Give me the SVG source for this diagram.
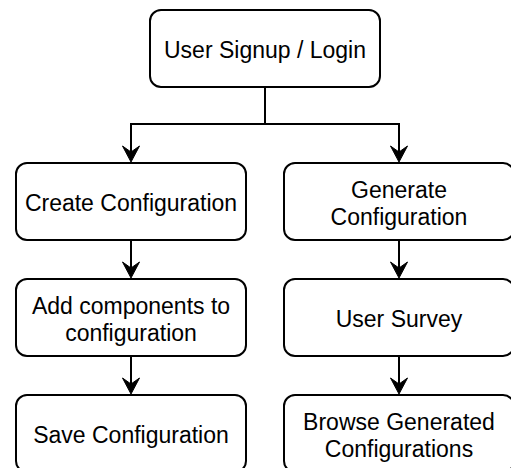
<svg xmlns="http://www.w3.org/2000/svg" width="511" height="468" viewBox="0 0 511 468">
  <defs>
    <style>
      .box { fill: #ffffff; stroke: #000000; stroke-width: 2; }
      .lbl { font-family: "Liberation Sans", Arial, sans-serif; font-size: 23px; fill: #000000; text-anchor: middle; }
      .edge { fill: none; stroke: #000000; stroke-width: 2; }
      .head { fill: #000000; stroke: #000000; stroke-width: 1; stroke-linejoin: miter; }
    </style>
  </defs>
  <rect x="0" y="0" width="511" height="468" fill="#ffffff"/>
  <g id="connectors">
    <path class="edge" d="M265 87 V124 H131 V152"/>
    <path class="edge" d="M265 124 H399 V152"/>
    <path class="head" d="M131 162 L122.5 146 L131 152 L139.5 146 Z"/>
    <path class="head" d="M399 162 L390.5 146 L399 152 L407.5 146 Z"/>
    <path class="edge" d="M131 240 V268"/>
    <path class="head" d="M131 278 L122.5 262 L131 268 L139.5 262 Z"/>
    <path class="edge" d="M131 356 V384"/>
    <path class="head" d="M131 394 L122.5 378 L131 384 L139.5 378 Z"/>
    <path class="edge" d="M399 240 V268"/>
    <path class="head" d="M399 278 L390.5 262 L399 268 L407.5 262 Z"/>
    <path class="edge" d="M399 356 V384"/>
    <path class="head" d="M399 394 L390.5 378 L399 384 L407.5 378 Z"/>
  </g>
  <g id="node-login">
    <rect class="box" x="150" y="10" width="230" height="77" rx="11" ry="11"/>
    <text class="lbl" x="265" y="58">User Signup / Login</text>
  </g>
  <g id="node-create">
    <rect class="box" x="16" y="163" width="230" height="77" rx="11" ry="11"/>
    <text class="lbl" x="131" y="211">Create Configuration</text>
  </g>
  <g id="node-add">
    <rect class="box" x="16" y="279" width="230" height="77" rx="11" ry="11"/>
    <text class="lbl" x="131" y="314">Add components to</text>
    <text class="lbl" x="131" y="341">configuration</text>
  </g>
  <g id="node-save">
    <rect class="box" x="16" y="395" width="230" height="77" rx="11" ry="11"/>
    <text class="lbl" x="131" y="443">Save Configuration</text>
  </g>
  <g id="node-generate">
    <rect class="box" x="284" y="163" width="230" height="77" rx="11" ry="11"/>
    <text class="lbl" x="399" y="198">Generate</text>
    <text class="lbl" x="399" y="225">Configuration</text>
  </g>
  <g id="node-survey">
    <rect class="box" x="284" y="279" width="230" height="77" rx="11" ry="11"/>
    <text class="lbl" x="399" y="327">User Survey</text>
  </g>
  <g id="node-browse">
    <rect class="box" x="284" y="395" width="230" height="77" rx="11" ry="11"/>
    <text class="lbl" x="399" y="430">Browse Generated</text>
    <text class="lbl" x="399" y="457">Configurations</text>
  </g>
</svg>
